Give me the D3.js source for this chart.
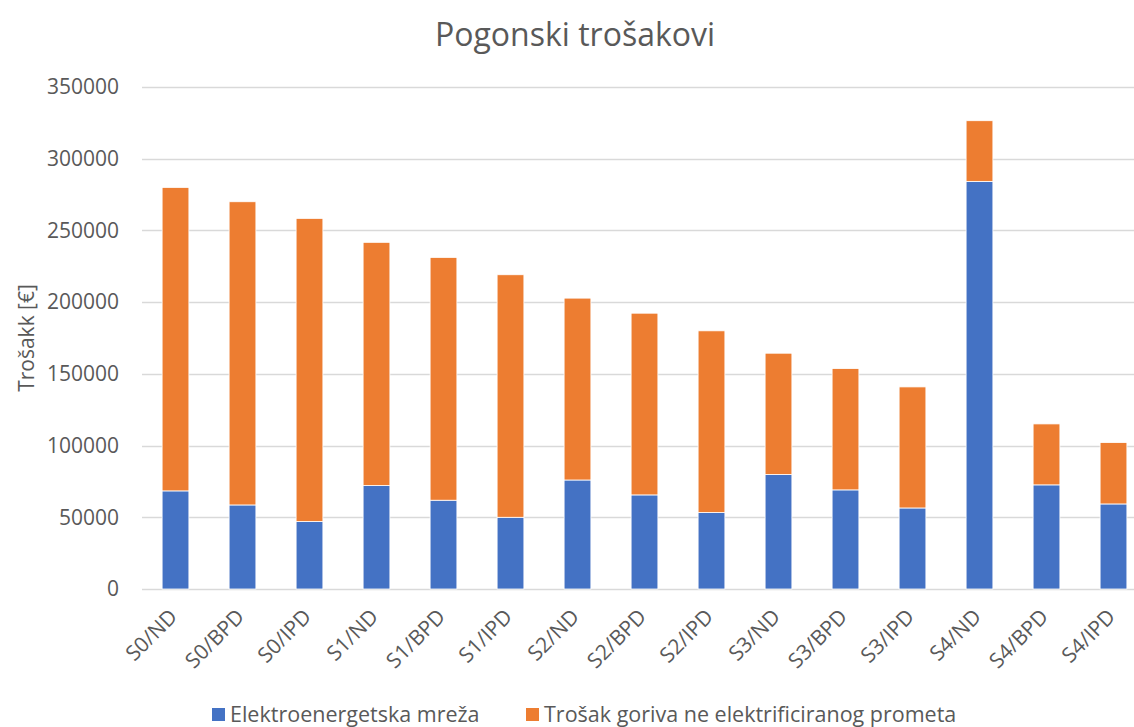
<!DOCTYPE html>
<html>
<head>
<meta charset="utf-8">
<script src="https://cdn.jsdelivr.net/npm/d3@7"></script>
<style>
  body { margin: 0; background: #fff; }
  text { font-family: "Open Sans", "Noto Sans", sans-serif; fill: #595959; }
</style>
</head>
<body>
<div id="chart"></div>
<script>
// categories and values
var categories = ["S0/ND", "S0/BPD", "S0/IPD", "S1/ND", "S1/BPD", "S1/IPD",
                  "S2/ND", "S2/BPD", "S2/IPD", "S3/ND", "S3/BPD", "S3/IPD",
                  "S4/ND", "S4/BPD", "S4/IPD"];
var mreza = [68400, 58600, 47000, 72100, 61900, 50000,
             76000, 65600, 53300, 79800, 69100, 56500,
             284200, 72600, 59300];
var ukupno = [280000, 270000, 258400, 241700, 231200, 219100,
              202800, 192300, 180000, 164400, 153700, 140900,
              326500, 115100, 102100];
var gorivo = ukupno.map(function(t, i) { return t - mreza[i]; });
var yTicks = [0, 50000, 100000, 150000, 200000, 250000, 300000, 350000];
var seriesNames = ["Elektroenergetska mreža", "Trošak goriva ne elektrificiranog prometa"];
var colors = ["#4472c4", "#ed7d31"];

var width = 1134, height = 727;
var margin = {top: 87, right: -13, bottom: 138, left: 142};

var svg = d3.select("#chart").append("svg")
    .attr("width", width)
    .attr("height", height);

var x = d3.scaleBand()
    .domain(categories)
    .range([margin.left, width - margin.right])
    .paddingInner(0.6)
    .paddingOuter(0.3);

var y = d3.scaleLinear()
    .domain([0, 350000])
    .range([height - margin.bottom, margin.top]);

// gridlines
svg.append("g")
  .selectAll("line")
  .data(yTicks)
  .join("line")
    .attr("x1", margin.left)
    .attr("x2", width - margin.right)
    .attr("y1", function(d) { return Math.round(y(d)) + 0.5; })
    .attr("y2", function(d) { return Math.round(y(d)) + 0.5; })
    .attr("stroke", "#d9d9d9")
    .attr("stroke-width", 1.3);

// y axis labels
var yAxis = svg.append("g")
    .attr("transform", "translate(" + (margin.left - 20) + ",0)")
    .call(d3.axisLeft(y).tickValues(yTicks).tickSize(0).tickFormat(d3.format("d")));
yAxis.select(".domain").remove();
yAxis.selectAll("text")
    .attr("font-size", 21)
    .attr("font-family", "Open Sans")
    .attr("fill", "#595959");

// stacked bars
var stack = d3.stack().keys([0, 1])(categories.map(function(c, i) { return [mreza[i], gorivo[i]]; }));

svg.append("g")
  .selectAll("g")
  .data(stack)
  .join("g")
    .attr("fill", function(d, i) { return colors[i]; })
  .selectAll("rect")
  .data(function(d) { return d; })
  .join("rect")
    .attr("x", function(d, i) { return x(categories[i]); })
    .attr("y", function(d) { return y(d[1]); })
    .attr("width", x.bandwidth())
    .attr("height", function(d) { return y(d[0]) - y(d[1]); })
    .attr("stroke", "#fff")
    .attr("stroke-width", 0.8);

// x axis labels
var xAxis = svg.append("g")
    .attr("transform", "translate(0," + y(0) + ")")
    .call(d3.axisBottom(x).tickSize(0));
xAxis.select(".domain").remove();
xAxis.selectAll("text")
    .attr("font-size", 21)
    .attr("font-family", "Open Sans")
    .attr("fill", "#595959")
    .attr("text-anchor", "end")
    .attr("y", 0)
    .attr("dy", 0)
    .attr("transform", "translate(3,29) rotate(-45)");

// title
svg.append("text")
    .attr("x", 575)
    .attr("y", 46)
    .attr("text-anchor", "middle")
    .attr("font-size", 32)
    .text("Pogonski trošakovi");

// y axis title
svg.append("text")
    .attr("transform", "translate(34," + y(175000) + ") rotate(-90)")
    .attr("text-anchor", "middle")
    .attr("font-size", 21)
    .text("Trošakk [€]");

// legend
var legendX = [212, 526];
var legend = svg.append("g")
  .selectAll("g")
  .data(seriesNames)
  .join("g")
    .attr("transform", function(d, i) { return "translate(" + legendX[i] + ",708)"; });
legend.append("rect")
    .attr("width", 13)
    .attr("height", 13)
    .attr("fill", function(d, i) { return colors[i]; });
legend.append("text")
    .attr("x", 18)
    .attr("y", 14)
    .attr("font-size", 21.5)
    .text(function(d) { return d; });
</script>
</body>
</html>
